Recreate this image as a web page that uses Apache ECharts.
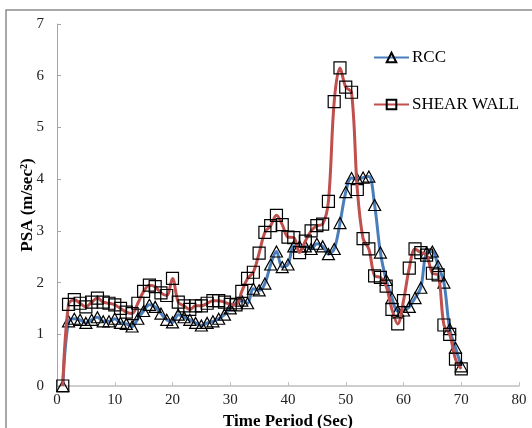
<!DOCTYPE html>
<html>
<head>
<meta charset="utf-8">
<script src="https://cdn.jsdelivr.net/npm/echarts@6/dist/echarts.min.js"></script>
<style>
  html, body { margin: 0; padding: 0; background: #fff; }
  #chart { width: 532px; height: 428px; }
</style>
</head>
<body>
<div id="chart"></div>
<script>
// Time steps (sec)
const timeSec = Array.from({ length: 70 }, (_, i) => i + 1);

// Pseudo spectral acceleration, m/sec^2
const rccPSA = [
  0, 1.25, 1.30, 1.28, 1.22, 1.28, 1.33, 1.25, 1.25, 1.30,
  1.22, 1.20, 1.15, 1.30, 1.45, 1.57, 1.53, 1.40, 1.28, 1.23,
  1.38, 1.33, 1.28, 1.22, 1.17, 1.22, 1.25, 1.30, 1.38, 1.50,
  1.60, 1.65, 1.60, 1.88, 1.85, 1.98, 2.35, 2.60, 2.30, 2.35,
  2.70, 2.70, 2.70, 2.65, 2.75, 2.70, 2.55, 2.65, 3.15, 3.75,
  4.02, 4.00, 4.03, 4.05, 3.50, 2.58, 2.05, 1.70, 1.45, 1.46,
  1.53, 1.70, 1.90, 2.58, 2.60, 2.32, 2.00, 1.10, 0.74, 0.38
];

const shearWallPSA = [
  0, 1.58, 1.67, 1.60, 1.53, 1.62, 1.70, 1.62, 1.60, 1.57,
  1.50, 1.43, 1.40, 1.60, 1.83, 1.95, 1.92, 1.80, 1.75, 2.08,
  1.62, 1.55, 1.48, 1.55, 1.55, 1.60, 1.65, 1.65, 1.62, 1.58,
  1.57, 1.83, 2.08, 2.20, 2.57, 2.97, 3.10, 3.30, 3.12, 2.88,
  2.87, 2.58, 2.80, 3.00, 3.10, 3.13, 3.57, 5.50, 6.15, 5.78,
  5.68, 3.80, 2.85, 2.65, 2.13, 2.10, 1.93, 1.48, 1.20, 1.65,
  2.28, 2.65, 2.58, 2.53, 2.18, 2.15, 1.18, 1.00, 0.52, 0.33
];

const xTicks = { min: 0, max: 80, interval: 10 };
const yTicks = { min: 0, max: 7, interval: 1 };

const serif = '"Liberation Serif", "Times New Roman", serif';
const pairs = (vals) => timeSec.map((t, i) => [t, vals[i]]);

const chart = echarts.init(document.getElementById('chart'), null, { renderer: 'canvas' });

chart.setOption({
  backgroundColor: '#ffffff',
  animation: false,
  graphic: [{
    type: 'rect',
    shape: { x: 6, y: 10, width: 560, height: 440 },
    style: { fill: 'none', stroke: '#8c8c8c', lineWidth: 1.5 },
    silent: true
  }],
  grid: { left: 57, right: 13, top: 24, bottom: 42, containLabel: false, outerBoundsMode: 'none' },
  legend: {
    orient: 'vertical',
    left: 373,
    top: 49,
    padding: 0,
    itemWidth: 35,
    itemHeight: 12,
    itemGap: 30,
    textStyle: { fontFamily: serif, fontSize: 17, color: '#000', padding: [0, 0, 0, -2] },
    data: ['RCC', 'SHEAR WALL']
  },
  xAxis: {
    type: 'value',
    min: xTicks.min, max: xTicks.max, interval: xTicks.interval,
    name: 'Time Period (Sec)',
    nameLocation: 'middle',
    nameGap: 27,
    nameMoveOverlap: false,
    nameTextStyle: { fontFamily: serif, fontSize: 17, fontWeight: 'bold', color: '#000' },
    axisLine: { lineStyle: { color: '#bfbfbf', width: 1.5 } },
    axisTick: { inside: true, length: 4, lineStyle: { color: '#bfbfbf' } },
    axisLabel: { fontFamily: serif, fontSize: 15, color: '#222', margin: 7 },
    splitLine: { show: false }
  },
  yAxis: {
    type: 'value',
    min: yTicks.min, max: yTicks.max, interval: yTicks.interval,
    name: 'PSA (m/sec²)',
    nameLocation: 'middle',
    nameGap: 21,
    nameMoveOverlap: false,
    nameRotate: 90,
    nameTextStyle: { fontFamily: serif, fontSize: 17, fontWeight: 'bold', color: '#000' },
    axisLine: { show: true, lineStyle: { color: '#a6a6a6', width: 1 } },
    axisTick: { show: true, inside: true, length: 4, lineStyle: { color: '#a6a6a6' } },
    axisLabel: { fontFamily: serif, fontSize: 15, color: '#222', margin: 13 },
    splitLine: { show: false }
  },
  series: [
    {
      name: 'RCC',
      type: 'line',
      data: pairs(rccPSA),
      smooth: 0.35,
      symbol: 'triangle',
      symbolSize: [12, 11],
      color: '#4a7ebb',
      lineStyle: { color: '#4a7ebb', width: 3 },
      itemStyle: { color: 'rgba(255,255,255,0)', borderColor: '#000', borderWidth: 1.2 },
      z: 2
    },
    {
      name: 'SHEAR WALL',
      type: 'line',
      data: pairs(shearWallPSA),
      smooth: 0.35,
      symbol: 'rect',
      symbolSize: 12,
      color: '#c0504d',
      lineStyle: { color: '#c0504d', width: 3 },
      itemStyle: { color: 'rgba(255,255,255,0)', borderColor: '#000', borderWidth: 1.2 },
      z: 3
    }
  ]
});
</script>
</body>
</html>
